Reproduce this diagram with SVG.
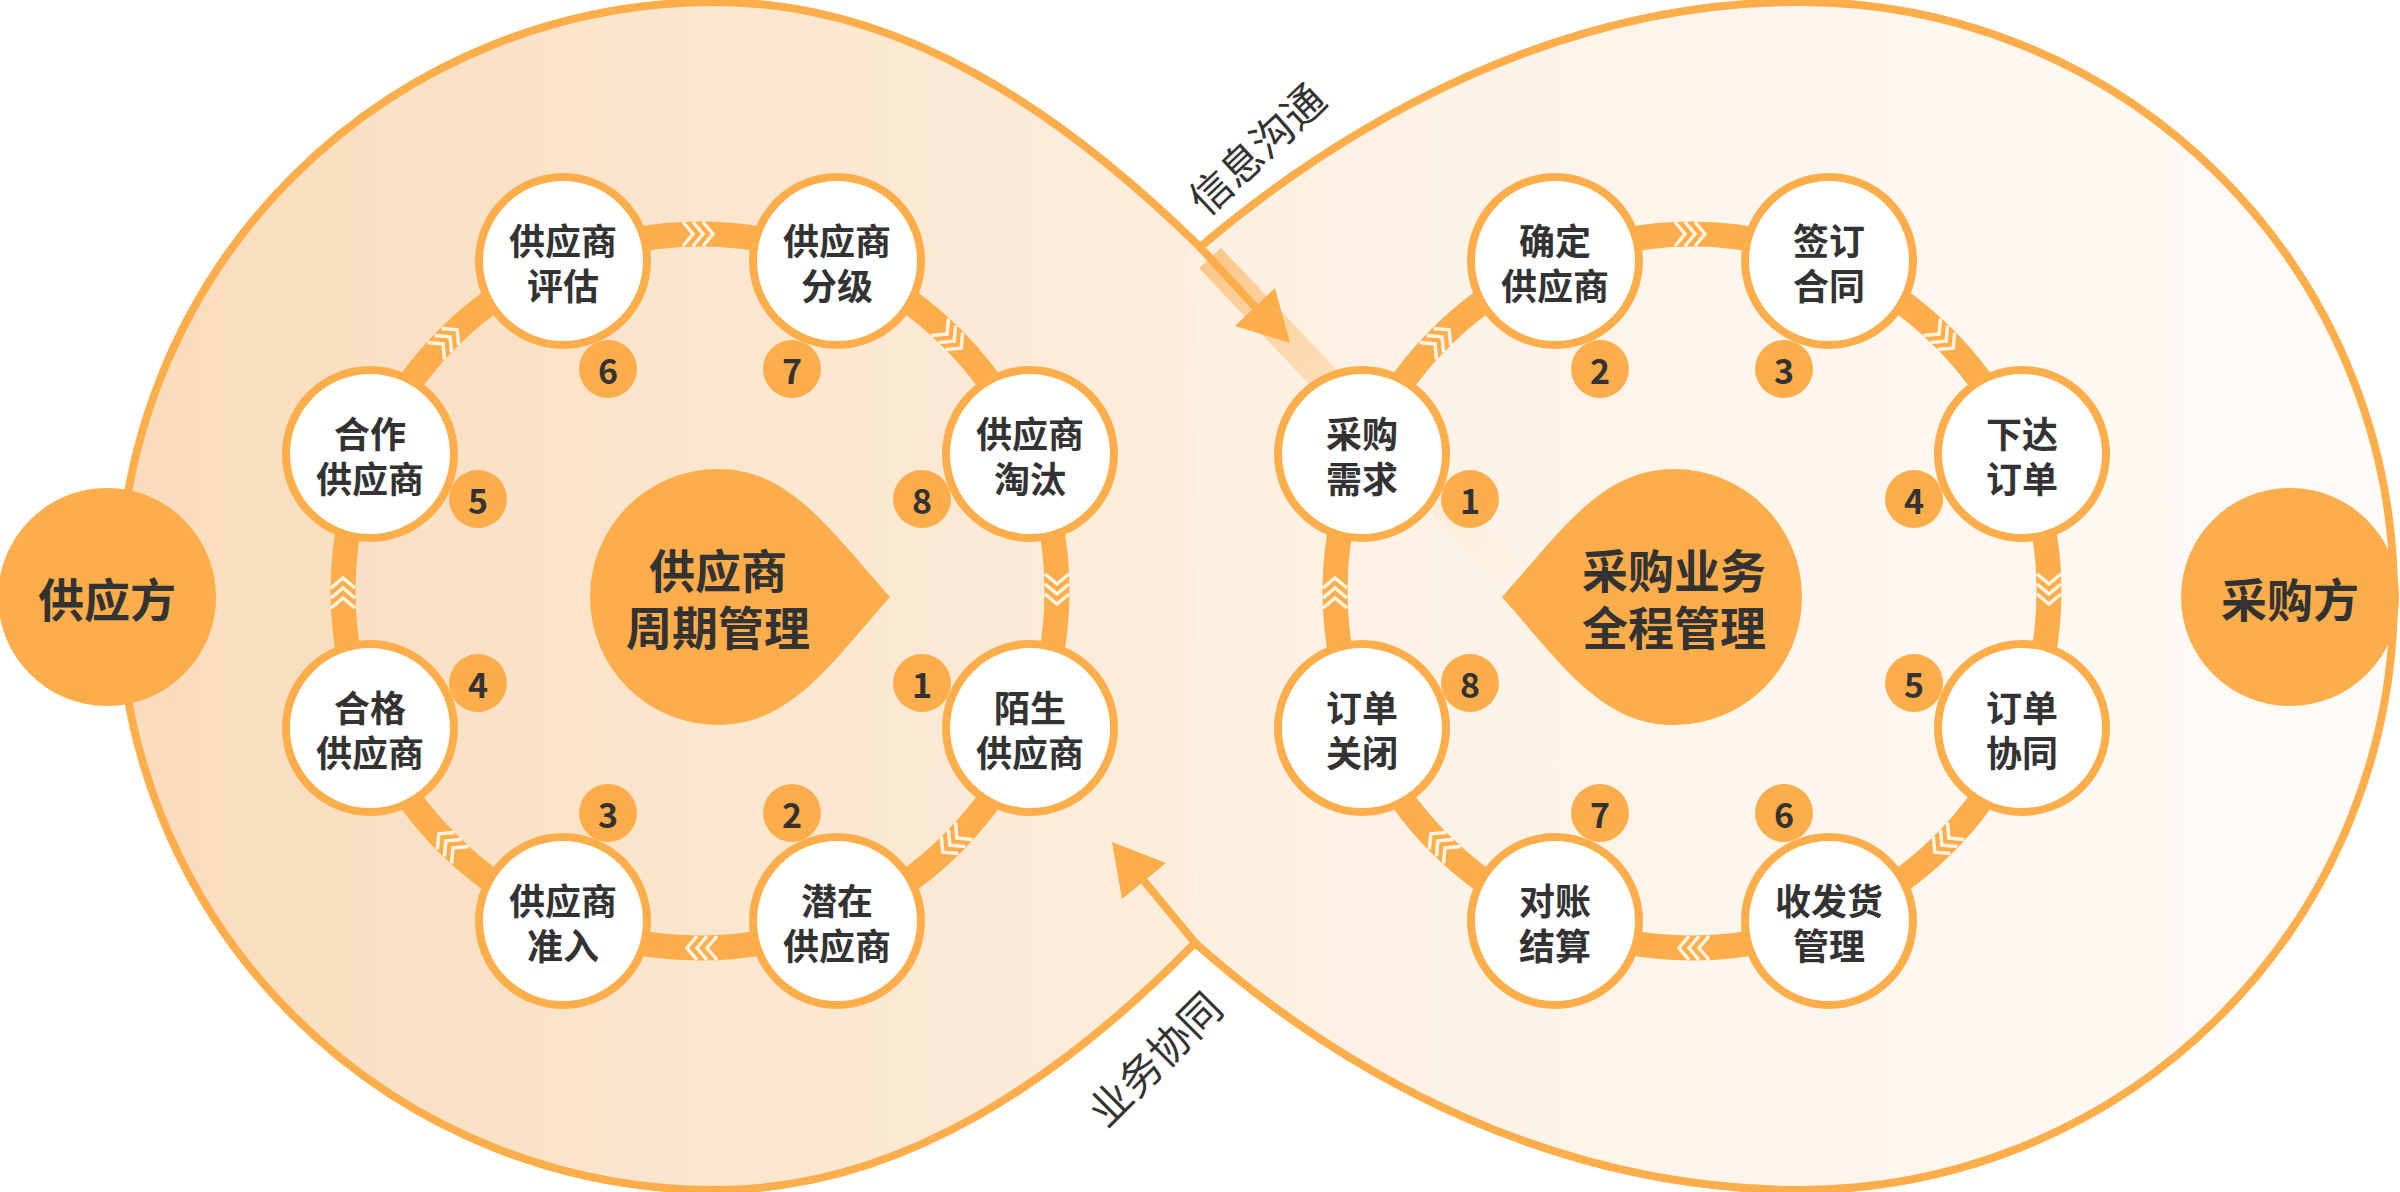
<svg xmlns="http://www.w3.org/2000/svg" width="2400" height="1192" viewBox="0 0 2400 1192">
<defs>
<linearGradient id="gl" x1="0" y1="0" x2="1" y2="0"><stop offset="0" stop-color="#f9dcbc"/><stop offset="1" stop-color="#fdeedd"/></linearGradient>
<linearGradient id="gr" x1="0" y1="0" x2="1" y2="0"><stop offset="0" stop-color="#fdf0e2"/><stop offset="1" stop-color="#fffbf8"/></linearGradient>
<linearGradient id="gb" gradientUnits="userSpaceOnUse" x1="1205" y1="250" x2="1530" y2="595"><stop offset="0" stop-color="#fcc17a" stop-opacity="0.9"/><stop offset="0.5" stop-color="#fde0bb" stop-opacity="0.7"/><stop offset="1" stop-color="#fff6ea" stop-opacity="0.5"/></linearGradient>
<path id="chev" d="M-17,-12 L-7,0 L-17,12 M-7,-12 L3,0 L-7,12 M3,-12 L13,0 L3,12" fill="none" stroke="#fff4e4" stroke-width="3.5"/>
</defs>
<style>
.lobe{stroke:#fdad4a;stroke-width:8}
.ring{fill:none;stroke:#fdad4a;stroke-width:25}
.node circle{fill:#fff;stroke:#fdad4a;stroke-width:8}
.badge circle{fill:#fdad4a}
.t{font-family:"Noto Sans CJK SC","Noto Sans",sans-serif;font-weight:700;fill:#333;text-anchor:middle;dominant-baseline:central}
.nt{font-size:36px}
.bt{font-size:34px}
.big{font-size:46px}
.lab{font-family:"Noto Sans CJK SC",sans-serif;font-size:42px;fill:#333;text-anchor:middle;dominant-baseline:central}
.drop{fill:#fdad4a}
</style>
<g id="lobes">
<path class="lobe" fill="url(#gl)" d="M1200,247 C1060,110 900,2 715,2 A596 594 0 0 0 715,1190 C900,1190 1060,1080 1195,943"/>
<path class="lobe" fill="url(#gr)" d="M1200,247 C1350,120 1560,2 1800,2 A594 594 0 0 1 1800,1190 C1560,1190 1350,1080 1195,943"/>
<line x1="1210" y1="258" x2="1530" y2="595" stroke="url(#gb)" stroke-width="30"/>
</g>
<g id="connectors">
<circle class="ring" cx="700" cy="591" r="357"/>
<circle class="ring" cx="1692" cy="591" r="357"/>
<g id="chevrons">
<use href="#chev" transform="translate(1057,591) rotate(90)"/>
<use href="#chev" transform="translate(952,843) rotate(135)"/>
<use href="#chev" transform="translate(700,948) rotate(180)"/>
<use href="#chev" transform="translate(448,843) rotate(225)"/>
<use href="#chev" transform="translate(343,591) rotate(270)"/>
<use href="#chev" transform="translate(448,339) rotate(315)"/>
<use href="#chev" transform="translate(700,234) rotate(0)"/>
<use href="#chev" transform="translate(952,339) rotate(45)"/>
<use href="#chev" transform="translate(2049,591) rotate(90)"/>
<use href="#chev" transform="translate(1944,843) rotate(135)"/>
<use href="#chev" transform="translate(1692,948) rotate(180)"/>
<use href="#chev" transform="translate(1440,843) rotate(225)"/>
<use href="#chev" transform="translate(1335,591) rotate(270)"/>
<use href="#chev" transform="translate(1440,339) rotate(315)"/>
<use href="#chev" transform="translate(1692,234) rotate(0)"/>
<use href="#chev" transform="translate(1944,339) rotate(45)"/>
</g>
<line x1="1198" y1="245" x2="1257" y2="309" stroke="#fdad4a" stroke-width="8"/>
<polygon points="1290,343 1275,288 1235,326" fill="#fdad4a"/>
<line x1="1197" y1="945" x2="1144" y2="881" stroke="#fdad4a" stroke-width="8"/>
<polygon points="1112,842 1166,863 1122,899" fill="#fdad4a"/>
</g>
<g id="badges">
<g class="badge"><circle cx="922" cy="683" r="29"/><text class="t bt" x="922" y="683">1</text></g>
<g class="badge"><circle cx="792" cy="813" r="29"/><text class="t bt" x="792" y="813">2</text></g>
<g class="badge"><circle cx="608" cy="813" r="29"/><text class="t bt" x="608" y="813">3</text></g>
<g class="badge"><circle cx="478" cy="683" r="29"/><text class="t bt" x="478" y="683">4</text></g>
<g class="badge"><circle cx="478" cy="499" r="29"/><text class="t bt" x="478" y="499">5</text></g>
<g class="badge"><circle cx="608" cy="369" r="29"/><text class="t bt" x="608" y="369">6</text></g>
<g class="badge"><circle cx="792" cy="369" r="29"/><text class="t bt" x="792" y="369">7</text></g>
<g class="badge"><circle cx="922" cy="499" r="29"/><text class="t bt" x="922" y="499">8</text></g>
<g class="badge"><circle cx="1470" cy="499" r="29"/><text class="t bt" x="1470" y="499">1</text></g>
<g class="badge"><circle cx="1600" cy="369" r="29"/><text class="t bt" x="1600" y="369">2</text></g>
<g class="badge"><circle cx="1784" cy="369" r="29"/><text class="t bt" x="1784" y="369">3</text></g>
<g class="badge"><circle cx="1914" cy="499" r="29"/><text class="t bt" x="1914" y="499">4</text></g>
<g class="badge"><circle cx="1914" cy="683" r="29"/><text class="t bt" x="1914" y="683">5</text></g>
<g class="badge"><circle cx="1784" cy="813" r="29"/><text class="t bt" x="1784" y="813">6</text></g>
<g class="badge"><circle cx="1600" cy="813" r="29"/><text class="t bt" x="1600" y="813">7</text></g>
<g class="badge"><circle cx="1470" cy="683" r="29"/><text class="t bt" x="1470" y="683">8</text></g>
</g>
<g id="center-left">
<path class="drop" d="M890,597 C830,530 790,469 718,469 A128 128 0 0 0 718,725 C790,725 830,665 890,597 Z"/>
<text class="t big" x="718" y="568">供应商</text>
<text class="t big" x="718" y="625">周期管理</text>
</g>
<g id="center-right">
<path class="drop" d="M1502,597 C1562,530 1602,469 1674,469 A128 128 0 0 1 1674,725 C1602,725 1562,665 1502,597 Z"/>
<text class="t big" x="1674" y="568">采购业务</text>
<text class="t big" x="1674" y="625">全程管理</text>
</g>
<g id="n-l1" class="node"><circle cx="1030" cy="728" r="84"/><text class="t nt" x="1030" y="706">陌生</text><text class="t nt" x="1030" y="751">供应商</text></g>
<g id="n-l2" class="node"><circle cx="837" cy="921" r="84"/><text class="t nt" x="837" y="899">潜在</text><text class="t nt" x="837" y="944">供应商</text></g>
<g id="n-l3" class="node"><circle cx="563" cy="921" r="84"/><text class="t nt" x="563" y="899">供应商</text><text class="t nt" x="563" y="944">准入</text></g>
<g id="n-l4" class="node"><circle cx="370" cy="728" r="84"/><text class="t nt" x="370" y="706">合格</text><text class="t nt" x="370" y="751">供应商</text></g>
<g id="n-l5" class="node"><circle cx="370" cy="454" r="84"/><text class="t nt" x="370" y="432">合作</text><text class="t nt" x="370" y="477">供应商</text></g>
<g id="n-l6" class="node"><circle cx="563" cy="261" r="84"/><text class="t nt" x="563" y="239">供应商</text><text class="t nt" x="563" y="284">评估</text></g>
<g id="n-l7" class="node"><circle cx="837" cy="261" r="84"/><text class="t nt" x="837" y="239">供应商</text><text class="t nt" x="837" y="284">分级</text></g>
<g id="n-l8" class="node"><circle cx="1030" cy="454" r="84"/><text class="t nt" x="1030" y="432">供应商</text><text class="t nt" x="1030" y="477">淘汰</text></g>
<g id="n-r1" class="node"><circle cx="1362" cy="454" r="84"/><text class="t nt" x="1362" y="432">采购</text><text class="t nt" x="1362" y="477">需求</text></g>
<g id="n-r2" class="node"><circle cx="1555" cy="261" r="84"/><text class="t nt" x="1555" y="239">确定</text><text class="t nt" x="1555" y="284">供应商</text></g>
<g id="n-r3" class="node"><circle cx="1829" cy="261" r="84"/><text class="t nt" x="1829" y="239">签订</text><text class="t nt" x="1829" y="284">合同</text></g>
<g id="n-r4" class="node"><circle cx="2022" cy="454" r="84"/><text class="t nt" x="2022" y="432">下达</text><text class="t nt" x="2022" y="477">订单</text></g>
<g id="n-r5" class="node"><circle cx="2022" cy="728" r="84"/><text class="t nt" x="2022" y="706">订单</text><text class="t nt" x="2022" y="751">协同</text></g>
<g id="n-r6" class="node"><circle cx="1829" cy="921" r="84"/><text class="t nt" x="1829" y="899">收发货</text><text class="t nt" x="1829" y="944">管理</text></g>
<g id="n-r7" class="node"><circle cx="1555" cy="921" r="84"/><text class="t nt" x="1555" y="899">对账</text><text class="t nt" x="1555" y="944">结算</text></g>
<g id="n-r8" class="node"><circle cx="1362" cy="728" r="84"/><text class="t nt" x="1362" y="706">订单</text><text class="t nt" x="1362" y="751">关闭</text></g>
<g id="supplier"><circle class="drop" cx="107" cy="597" r="109"/><text class="t big" x="107" y="597">供应方</text></g>
<g id="buyer"><circle class="drop" cx="2290" cy="597" r="109"/><text class="t big" x="2290" y="597">采购方</text></g>
<g id="labels">
<text class="lab" transform="translate(1255,147) rotate(-43)">信息沟通</text>
<text class="lab" transform="translate(1153,1057) rotate(-45)">业务协同</text>
</g>
</svg>
